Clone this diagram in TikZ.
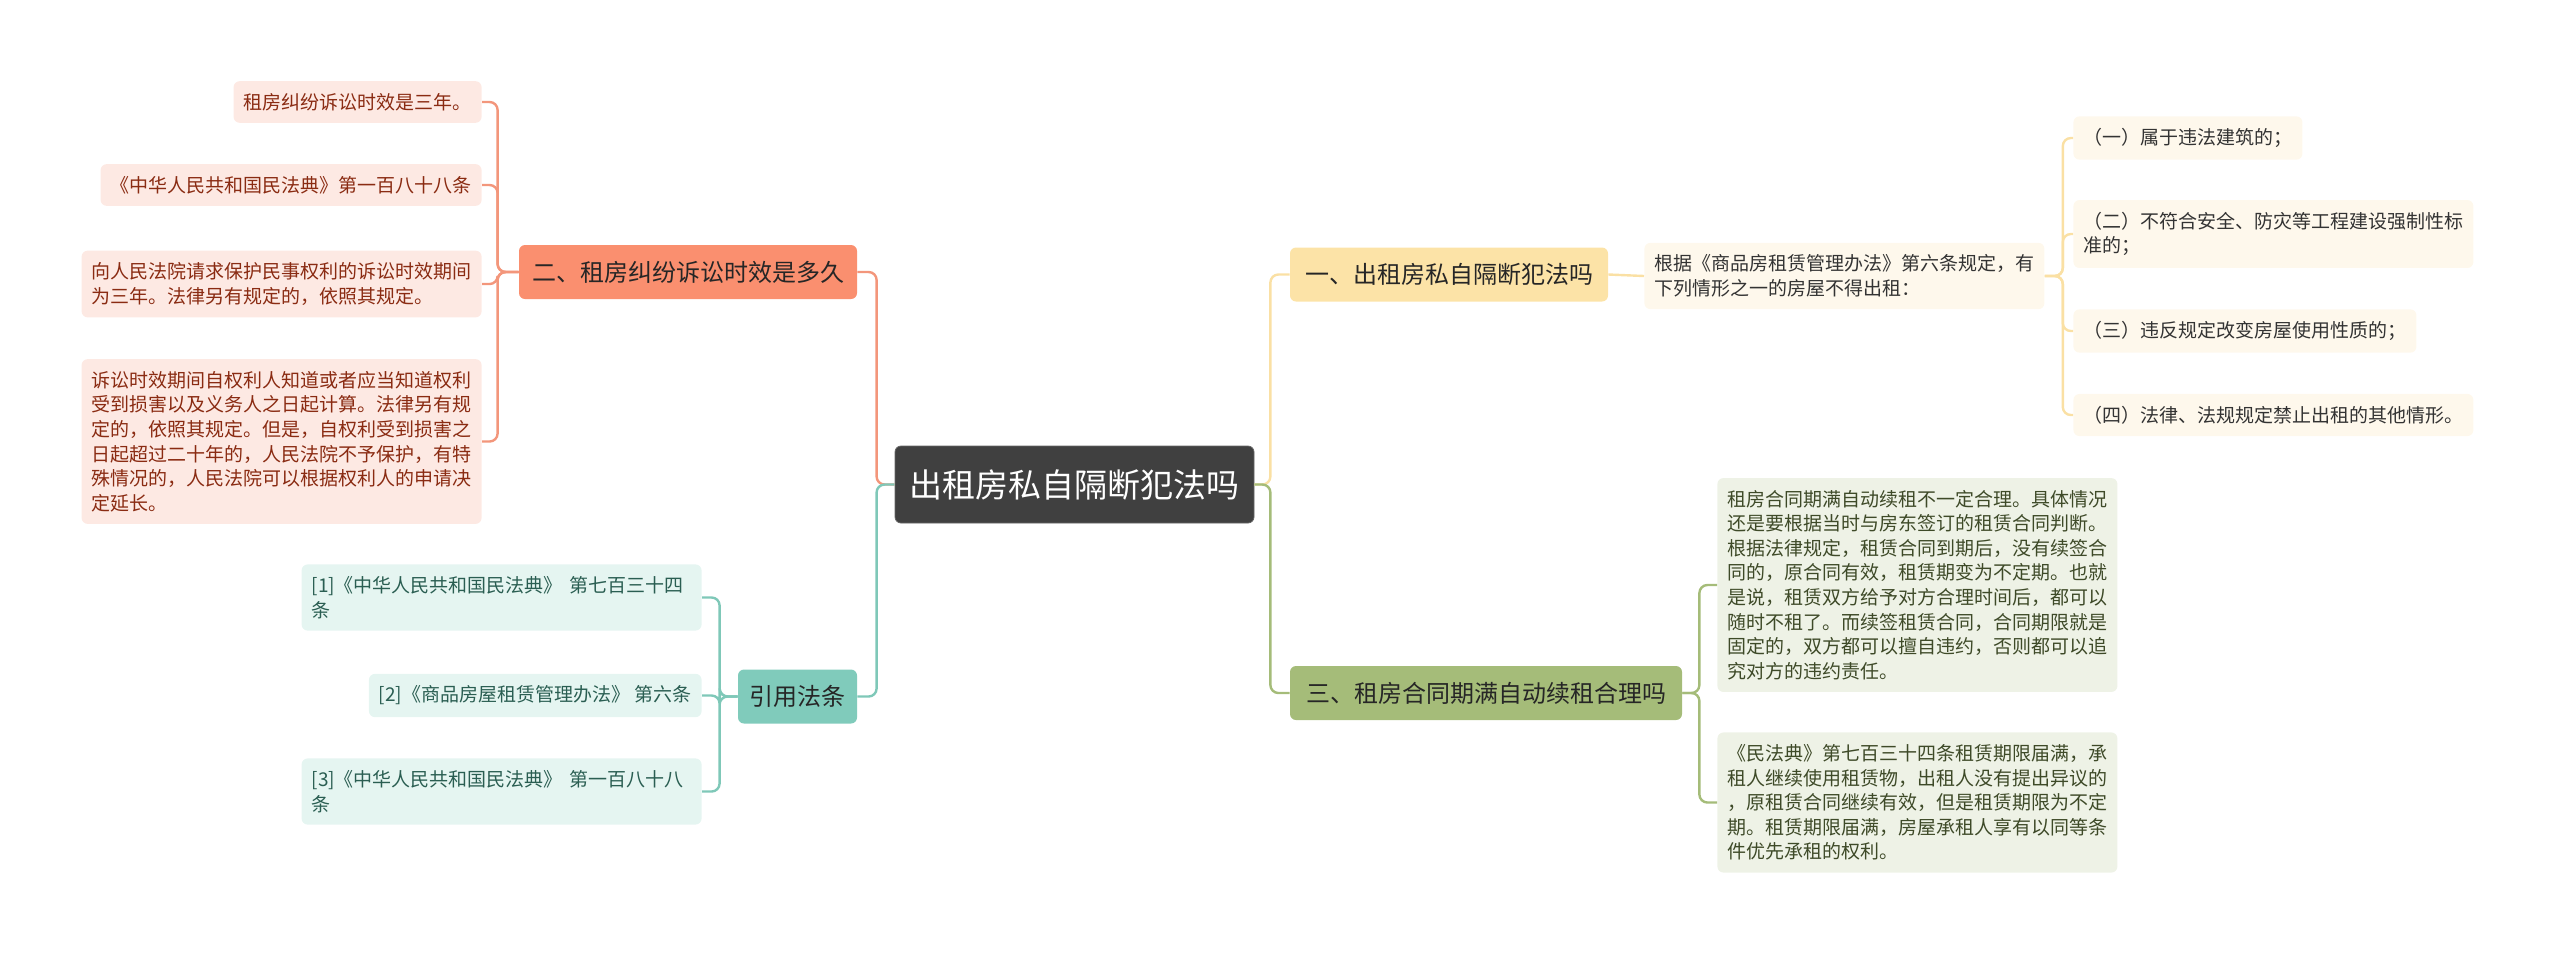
\documentclass[tikz,border=0pt]{standalone}
\usepackage{fontspec}
\setmainfont{Noto Sans CJK SC}
\usepackage{tikz}
\usetikzlibrary{positioning}
\definecolor{rootfill}{HTML}{404040}
\definecolor{erfill}{HTML}{FA8F6F}
\definecolor{erline}{HTML}{F3967B}
\definecolor{erleaf}{HTML}{FDE9E3}
\definecolor{ertext}{HTML}{8A2B12}
\definecolor{yinfill}{HTML}{80CBBB}
\definecolor{yinline}{HTML}{7FC8B8}
\definecolor{yinleaf}{HTML}{E5F5F1}
\definecolor{yintext}{HTML}{2A5E52}
\definecolor{yifill}{HTML}{FCE3A7}
\definecolor{yiline}{HTML}{FAE0A4}
\definecolor{yileaf}{HTML}{FEF8EC}
\definecolor{yitext}{HTML}{333333}
\definecolor{sanfill}{HTML}{A5BC79}
\definecolor{sanline}{HTML}{A5BC79}
\definecolor{sanleaf}{HTML}{EEF2E6}
\definecolor{santext}{HTML}{3E4A28}

\begin{document}
\begin{tikzpicture}[x=0.5pt,y=-0.5pt]
		\tikzset{
			rootnode/.style={fill=rootfill,draw=black!60,rounded corners=3pt,text=white,
				font=\fontsize{16.5}{20}\selectfont,minimum width=179.5pt,minimum height=38.5pt,inner sep=0pt},
			topicnode/.style={rounded corners=3pt,text=black!85,
				font=\fontsize{12}{15}\selectfont,minimum height=27pt,inner sep=0pt},
			leafnode/.style={rounded corners=3pt,align=left,inner xsep=5pt,inner ysep=6pt,
				font=\fontsize{9.5}{12.3}\selectfont},
		}
		\tikzset{
			edge/.style={line width=1.2pt,rounded corners=4pt},
		}
		\useasboundingbox (0,0) rectangle (2560,955);
		
		\node[rootnode] (root) at (1074.5, 484.5) {出租房私自隔断犯法吗};
		
		% left: 二
		\node[topicnode,fill=erfill,minimum width=169pt] (er) at (688, 272) {二、租房纠纷诉讼时效是多久};
		\node[leafnode,fill=erleaf,text=ertext,anchor=east] (er1) at (482, 102) {租房纠纷诉讼时效是三年。};
		\node[leafnode,fill=erleaf,text=ertext,anchor=east] (er2) at (482, 185) {《中华人民共和国民法典》第一百八十八条};
		\node[leafnode,fill=erleaf,text=ertext,anchor=east] (er3) at (482, 284) {向人民法院请求保护民事权利的诉讼时效期间\\为三年。法律另有规定的，依照其规定。};
		\node[leafnode,fill=erleaf,text=ertext,anchor=east] (er4) at (482, 441.5) {诉讼时效期间自权利人知道或者应当知道权利\\受到损害以及义务人之日起计算。法律另有规\\定的，依照其规定。但是，自权利受到损害之\\日起超过二十年的，人民法院不予保护，有特\\殊情况的，人民法院可以根据权利人的申请决\\定延长。};
		
		% left: 引用法条
		\node[topicnode,fill=yinfill,minimum width=59.5pt] (yin) at (797.5, 696.5) {引用法条};
		\node[leafnode,fill=yinleaf,text=yintext,anchor=east,text width=190pt] (yin1) at (702, 597.5) {[1]《中华人民共和国民法典》 第七百三十四\\条};
		\node[leafnode,fill=yinleaf,text=yintext,anchor=east] (yin2) at (702, 695.5) {[2]《商品房屋租赁管理办法》 第六条};
		\node[leafnode,fill=yinleaf,text=yintext,anchor=east,text width=190pt] (yin3) at (702, 791.5) {[3]《中华人民共和国民法典》 第一百八十八\\条};
		
		% right: 一
		\node[topicnode,fill=yifill,minimum width=159pt] (yi) at (1449, 274.5) {一、出租房私自隔断犯法吗};
		\node[leafnode,fill=yileaf,text=yitext,anchor=west] (yic) at (1644, 276) {根据《商品房租赁管理办法》第六条规定，有\\下列情形之一的房屋不得出租：};
		\node[leafnode,fill=yileaf,text=yitext,anchor=west] (yi1) at (2073, 138) {（一）属于违法建筑的；};
		\node[leafnode,fill=yileaf,text=yitext,anchor=west] (yi2) at (2073, 234) {（二）不符合安全、防灾等工程建设强制性标\\准的；};
		\node[leafnode,fill=yileaf,text=yitext,anchor=west] (yi3) at (2073, 331) {（三）违反规定改变房屋使用性质的；};
		\node[leafnode,fill=yileaf,text=yitext,anchor=west] (yi4) at (2073, 415) {（四）法律、法规规定禁止出租的其他情形。};
		
		% right: 三
		\node[topicnode,fill=sanfill,minimum width=196pt] (san) at (1486, 693) {三、租房合同期满自动续租合理吗};
		\node[leafnode,fill=sanleaf,text=santext,anchor=west] (san1) at (1717, 585) {租房合同期满自动续租不一定合理。具体情况\\还是要根据当时与房东签订的租赁合同判断。\\根据法律规定，租赁合同到期后，没有续签合\\同的，原合同有效，租赁期变为不定期。也就\\是说，租赁双方给予对方合理时间后，都可以\\随时不租了。而续签租赁合同，合同期限就是\\固定的，双方都可以擅自违约，否则都可以追\\究对方的违约责任。};
		\node[leafnode,fill=sanleaf,text=santext,anchor=west] (san2) at (1717, 802.5) {《民法典》第七百三十四条租赁期限届满，承\\租人继续使用租赁物，出租人没有提出异议的\\，原租赁合同继续有效，但是租赁期限为不定\\期。租赁期限届满，房屋承租人享有以同等条\\件优先承租的权利。};
		
		\draw[edge,erline] (root.west) -- ++(-18,0) |- (er.east);
		\draw[edge,yinline] (root.west) -- ++(-18,0) |- (yin.east);
		\draw[edge,yiline] (root.east) -- ++(16,0) |- (yi.west);
		\draw[edge,sanline] (root.east) -- ++(16,0) |- (san.west);
		
		\foreach \k in {1,...,4}
			\draw[edge,erline] (er.west) -- ++(-21,0) |- (er\k.east);
		\foreach \k in {1,...,3}
			\draw[edge,yinline] (yin.west) -- ++(-18,0) |- (yin\k.east);
		\draw[edge,yiline] (yi.east) -- (yic.west);
		\foreach \k in {1,...,4}
			\draw[edge,yiline] (yic.east) -- ++(18,0) |- (yi\k.west);
		\foreach \k in {1,2}
			\draw[edge,sanline] (san.east) -- ++(17,0) |- (san\k.west);
	\end{tikzpicture}
\end{document}
